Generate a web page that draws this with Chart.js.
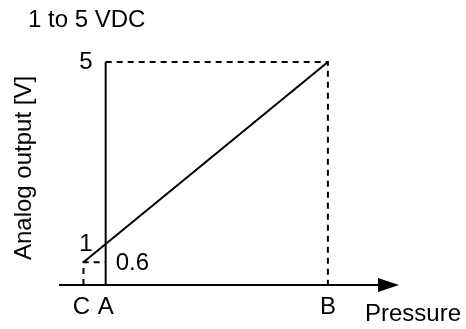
<!DOCTYPE html>
<html>
<head>
<meta charset="utf-8">
<script src="https://cdn.jsdelivr.net/npm/chart.js@4"></script>
<style>
  body { margin: 0; background: #fff; }
  canvas { display: block; }
</style>
</head>
<body>
<canvas id="chartCanvas" width="466" height="329"></canvas>
<script>
// pressure positions of the marked points (C, A, B) and their labels
const pressureValues = [-10, 0, 100]
const pressureLabels = ['C', 'A', 'B']
// analog output at C, A, B
const outputValues = [0.6, 1, 5]
// voltage tick labels
const voltTicks = [5, 1, 0.6]
const voltLabels = ['5', '1', '0.6']

const xMin = -21
const xMax = 132
const yMin = 0.1
const yMax = 5

const ink = '#000'

const outputPoints = pressureValues.map((p, i) => ({ x: p, y: outputValues[i] }))

function lineSet(points, dashed) {
  return {
    data: points,
    showLine: true,
    borderColor: ink,
    borderWidth: 2,
    borderDash: dashed ? [6, 5] : [],
    pointRadius: 0,
    fill: false,
    clip: false,
    tension: 0
  }
}

// Text + arrow head plugin
const annotations = {
  id: 'annotations',
  afterDatasetsDraw(chart) {
    const ctx = chart.ctx
    const xs = chart.scales.x
    const ys = chart.scales.y
    const font = '24px "Liberation Sans", Arial, sans-serif'

    // arrow head at the end of the pressure axis
    const tipX = xs.getPixelForValue(xMax)
    const axisY = ys.getPixelForValue(yMin)
    ctx.save()
    ctx.fillStyle = ink
    ctx.beginPath()
    ctx.moveTo(tipX, axisY)
    ctx.lineTo(tipX - 21, axisY - 7)
    ctx.lineTo(tipX - 21, axisY + 7)
    ctx.closePath()
    ctx.fill()

    ctx.font = font
    ctx.fillStyle = ink
    ctx.textBaseline = 'middle'

    // pressure labels
    ctx.textAlign = 'center'
    pressureValues.forEach((p, i) => {
      let x = xs.getPixelForValue(p)
      if (pressureLabels[i] === 'C') x -= 2
      ctx.fillText(pressureLabels[i], x, axisY + 22)
    })

    // voltage labels: 0.6 sits right of the axis, others left
    const axisX = xs.getPixelForValue(0)
    voltTicks.forEach((v, i) => {
      const y = ys.getPixelForValue(v)
      if (v < 1) {
        ctx.textAlign = 'left'
        ctx.fillText(voltLabels[i], axisX + 10, y + 1)
      } else {
        ctx.textAlign = 'right'
        ctx.fillText(voltLabels[i], axisX - 13, y)
      }
    })

    ctx.textAlign = 'left'
    ctx.fillText('1 to 5 VDC', 28, 20)
    ctx.fillText('Pressure', 365, axisY + 29)

    ctx.translate(24, 168)
    ctx.rotate(-Math.PI / 2)
    ctx.textAlign = 'center'
    ctx.fillText('Analog output [V]', 0, 0)
    ctx.restore()
  }
}

const chartCanvas = document.getElementById('chartCanvas')
let chart = new Chart(chartCanvas, {
  type: 'scatter',
  data: {
    datasets: [
      lineSet(outputPoints, false),
      lineSet([{ x: 0, y: yMin }, { x: 0, y: yMax }], false),
      lineSet([{ x: xMin, y: yMin }, { x: xMax - 5, y: yMin }], false),
      lineSet([{ x: 0, y: yMax }, { x: 100, y: yMax }, { x: 100, y: yMin }], true),
      lineSet([{ x: -10, y: yMin }, { x: -10, y: 0.6 }, { x: 0, y: 0.6 }], true)
    ]
  },
  options: {
    responsive: false,
    animation: false,
    layout: {
      padding: { left: 59, right: 67, top: 62, bottom: 44 }
    },
    plugins: {
      legend: { display: false },
      tooltip: { enabled: false }
    },
    scales: {
      x: { type: 'linear', min: xMin, max: xMax, display: false },
      y: { type: 'linear', min: yMin, max: yMax, display: false }
    }
  },
  plugins: [annotations]
})
</script>
</body>
</html>
